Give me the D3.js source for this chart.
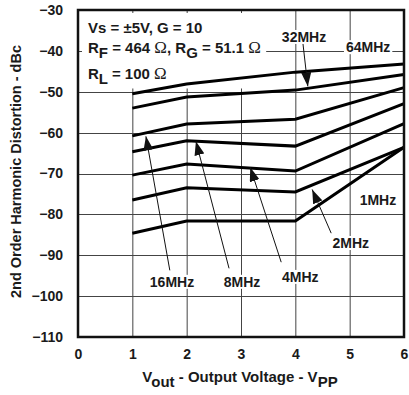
<!DOCTYPE html>
<html>
<head>
<meta charset="utf-8">
<script src="https://cdn.jsdelivr.net/npm/d3@7"></script>
<style>
  html, body { margin: 0; padding: 0; background: #fff; }
  svg { display: block; }
  text { font-family: "Liberation Sans", Arial, sans-serif; font-weight: bold; fill: #1a1a1a; }
</style>
</head>
<body>
<svg id="chart" width="409" height="395"></svg>
<script>
// ---------- data ----------
const voltages = [1, 2, 4, 6];
const series = [
  { name: "64MHz", values: [-50.5, -48.1, -45.2, -43.2] },
  { name: "32MHz", values: [-54.0, -51.3, -49.6, -45.8] },
  { name: "16MHz", values: [-60.8, -57.9, -56.7, -49.0] },
  { name: "8MHz",  values: [-64.7, -62.0, -63.3, -52.9] },
  { name: "4MHz",  values: [-70.4, -67.7, -69.4, -57.8] },
  { name: "2MHz",  values: [-76.5, -73.5, -74.5, -63.6] },
  { name: "1MHz",  values: [-84.6, -81.6, -81.6, -63.6] }
];
const xTicks = [0, 1, 2, 3, 4, 5, 6];
const yTicks = [-110, -100, -90, -80, -70, -60, -50, -40, -30];
// labels in data units: text position, optional arrow start and tip
const labels = [
  { text: "32MHz", x: 4.16, y: -36.6, from: [4.14, -38.2], to: [4.23, -48.7] },
  { text: "64MHz", x: 5.34, y: -39.1 },
  { text: "16MHz", x: 1.73, y: -96.5, from: [1.69, -93.7], to: [1.25, -60.9] },
  { text: "8MHz",  x: 3.02, y: -96.5, from: [2.78, -93.2], to: [2.17, -62.1] },
  { text: "4MHz",  x: 4.09, y: -95.3, from: [3.74, -91.7], to: [3.17, -68.5] },
  { text: "2MHz",  x: 5.02, y: -87.0, from: [4.66, -84.6], to: [4.31, -73.9] },
  { text: "1MHz",  x: 5.52, y: -76.5 }
];

// ---------- layout ----------
const svg = d3.select("#chart");
const x = d3.scaleLinear().domain([0, 6]).range([78, 404]);
const y = d3.scaleLinear().domain([-110, -30]).range([337, 10]);

// grid
const grid = svg.append("g");
grid.selectAll("line.v").data(xTicks.slice(1, -1)).enter().append("line")
  .attr("x1", d => x(d) + 0.5).attr("x2", d => x(d) + 0.5)
  .attr("y1", y(-30)).attr("y2", y(-110))
  .attr("stroke", "#444").attr("stroke-width", 1);
grid.selectAll("line.h").data(yTicks.slice(1, -1)).enter().append("line")
  .attr("x1", x(0)).attr("x2", x(6))
  .attr("y1", d => Math.round(y(d)) + 0.5).attr("y2", d => Math.round(y(d)) + 0.5)
  .attr("stroke", "#444").attr("stroke-width", 1);

// white background for condition text
svg.append("rect")
  .attr("x", x(0) + 4).attr("y", y(-30) + 3)
  .attr("width", x(3.5) - x(0) - 4 - 2).attr("height", y(-49.2) - y(-30) - 3)
  .attr("fill", "#fff");

// axes
const yAxis = svg.append("g").attr("transform", `translate(${x(0)},0)`)
  .call(d3.axisLeft(y).tickValues(yTicks).tickSize(0).tickPadding(15).tickFormat(d3.format("d")));
const xAxis = svg.append("g").attr("transform", `translate(0,${y(-110)})`)
  .call(d3.axisBottom(x).tickValues(xTicks).tickSize(0).tickPadding(12).tickFormat(d3.format("d")));
[yAxis, xAxis].forEach(g => {
  g.select(".domain").remove();
  g.selectAll("text").attr("font-family", "Liberation Sans, Arial, sans-serif")
    .attr("font-weight", "bold").attr("font-size", 14).attr("fill", "#1a1a1a");
});

// curves
const line = d3.line().x((d, i) => x(voltages[i])).y(d => y(d));
svg.append("g").selectAll("path").data(series).enter().append("path")
  .attr("d", d => line(d.values))
  .attr("fill", "none").attr("stroke", "#000").attr("stroke-width", 3)
  .attr("stroke-linejoin", "miter");

// plot border
svg.append("rect")
  .attr("x", x(0)).attr("y", y(-30))
  .attr("width", x(6) - x(0)).attr("height", y(-110) - y(-30))
  .attr("fill", "none").attr("stroke", "#111").attr("stroke-width", 2.5);

// arrows
const defs = svg.append("defs");
defs.append("marker").attr("id", "ah").attr("viewBox", "0 0 14 10")
  .attr("refX", 14).attr("refY", 5).attr("markerWidth", 14).attr("markerHeight", 10)
  .attr("markerUnits", "userSpaceOnUse").attr("orient", "auto")
  .append("path").attr("d", "M0,0 L14,5 L0,10 Z").attr("fill", "#111");
svg.append("g").selectAll("line").data(labels.filter(d => d.from)).enter().append("line")
  .attr("x1", d => x(d.from[0])).attr("y1", d => y(d.from[1]))
  .attr("x2", d => x(d.to[0])).attr("y2", d => y(d.to[1]))
  .attr("stroke", "#111").attr("stroke-width", 1).attr("marker-end", "url(#ah)");

// labels with white background
const lg = svg.append("g").selectAll("g").data(labels).enter().append("g");
lg.each(function(d) {
  const g = d3.select(this);
  const t = g.append("text").attr("x", x(d.x)).attr("y", y(d.y) + 5)
    .attr("text-anchor", "middle").attr("font-size", 14).text(d.text);
  const bb = t.node().getBBox();
  g.insert("rect", "text").attr("x", bb.x - 2).attr("y", bb.y + 1)
    .attr("width", bb.width + 4).attr("height", bb.height - 2).attr("fill", "#fff");
});

// condition text
const cond = svg.append("g").attr("font-size", 15);
const omega = s => s.append("tspan").attr("font-family", "Liberation Serif, Times New Roman, serif")
  .attr("font-weight", "normal").attr("font-size", 17).text("\u03A9");
cond.append("text").attr("x", 88).attr("y", 33).text("Vs = \u00B15V, G = 10");
{
  const t = cond.append("text").attr("x", 88).attr("y", 53);
  t.append("tspan").text("R");
  t.append("tspan").attr("dy", 5).text("F");
  t.append("tspan").attr("dy", -5).text(" = 464 ");
  omega(t);
  t.append("tspan").text(", R");
  t.append("tspan").attr("dy", 5).text("G");
  t.append("tspan").attr("dy", -5).text(" = 51.1 ");
  omega(t);
}
{
  const t = cond.append("text").attr("x", 88).attr("y", 79);
  t.append("tspan").text("R");
  t.append("tspan").attr("dy", 5).text("L");
  t.append("tspan").attr("dy", -5).text(" = 100 ");
  omega(t);
}

// axis titles
svg.append("text").attr("transform", `translate(21,${(y(-30) + y(-110)) / 2 - 2}) rotate(-90)`)
  .attr("text-anchor", "middle").attr("font-size", 14.5)
  .text("2nd Order Harmonic Distortion - dBc");
{
  const t = svg.append("text").attr("x", (x(0) + x(6)) / 2 - 1).attr("y", 382)
    .attr("text-anchor", "middle").attr("font-size", 15);
  t.append("tspan").text("V");
  t.append("tspan").attr("dy", 5).text("out");
  t.append("tspan").attr("dy", -5).text(" - Output Voltage - V");
  t.append("tspan").attr("dy", 5).text("PP");
}
</script>
</body>
</html>
